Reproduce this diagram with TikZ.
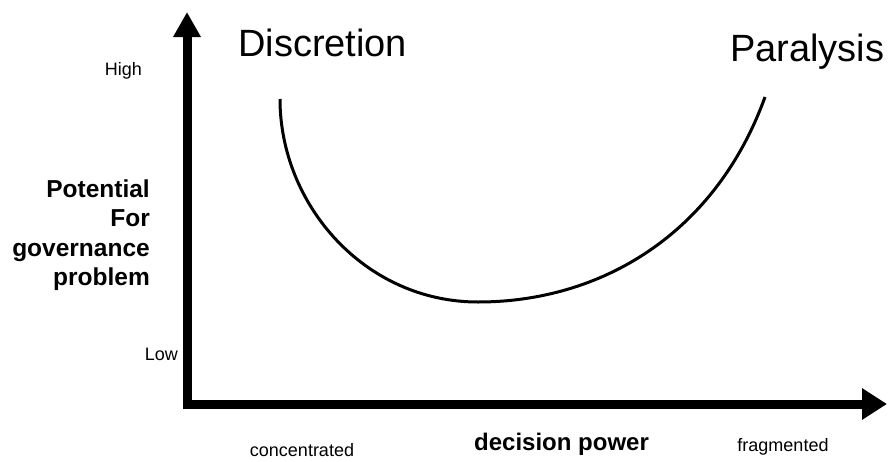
\documentclass[tikz,border=0pt]{standalone}
\usepackage{fontspec}
\setmainfont{Liberation Sans}
\usetikzlibrary{arrows.meta}
\begin{document}
\begin{tikzpicture}[x=1pt,y=-1pt,
  big/.style={font=\fontsize{38}{44}\selectfont, inner sep=0pt},
  small/.style={font=\fontsize{18}{22}\selectfont, inner sep=0pt},
  ylab/.style={font=\fontsize{24.5}{29.5}\selectfont\bfseries, inner sep=0pt, align=right},
  xlab/.style={font=\fontsize{24}{28}\selectfont\bfseries, inner sep=0pt},
  axis/.style={line width=9pt, line join=miter, {Triangle[length=25pt,width=26pt]}-{Triangle[length=25pt,width=30pt]}},
  curveline/.style={line width=3pt}]
\useasboundingbox (0,0) rectangle (891,461);
\fill[white] (0,0) rectangle (891,461);
\coordinate (top) at (187,12);
\coordinate (origin) at (187,404);
\coordinate (right) at (887,404);
\draw[axis] (top) -- (origin) -- (right);
\coordinate (cs) at (280,99);
\coordinate (cm) at (478,302);
\coordinate (ce) at (765,97);
\draw[curveline] (cs) .. controls (280,205) and (365,302) .. (cm)
  .. controls (600,302) and (715,235) .. (ce);
\node[big, anchor=base west] (disc) at (238,56) {Discretion};
\node[big, anchor=base west] (para) at (730,61) {Paralysis};
\node[small, anchor=base east] (high) at (142,75) {High};
\node[small, anchor=base east] (low) at (178,360) {Low};
\node[ylab, anchor=east] (ylabel) at (150,235) {Potential\\For\\governance\\problem};
\node[xlab, anchor=base west] (xlabel) at (474,450) {decision power};
\node[small, anchor=base] (conc) at (302,456) {concentrated};
\node[small, anchor=base] (frag) at (783,451) {fragmented};
\end{tikzpicture}
\end{document}
